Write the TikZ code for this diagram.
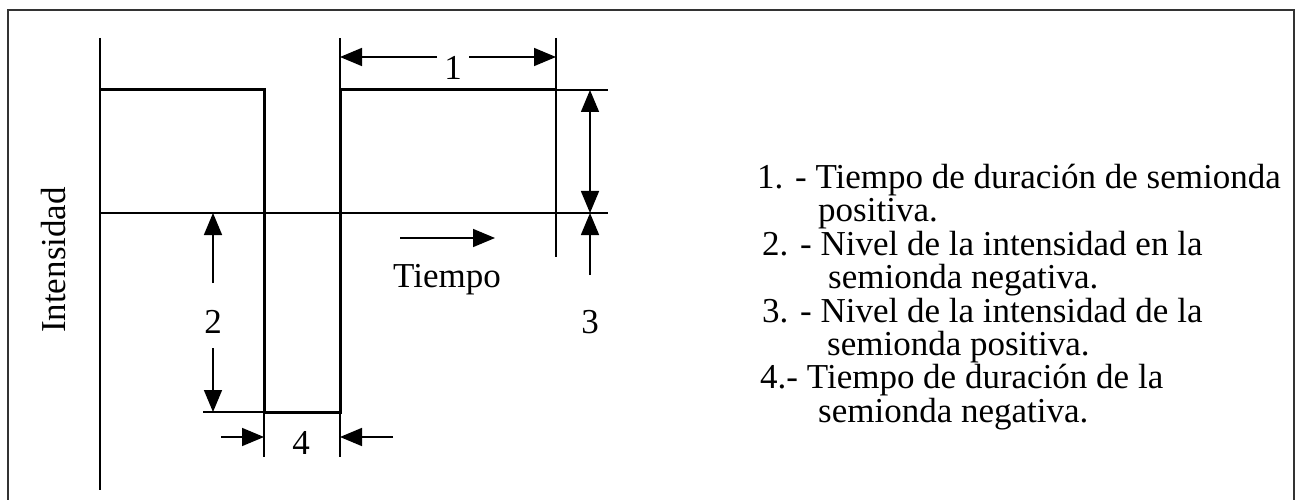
\documentclass[tikz,border=0pt]{standalone}
\usepackage{fontspec}
\setmainfont{Liberation Serif}
\usetikzlibrary{arrows.meta}

\tikzset{
  wave/.style={line width=3pt},
  guide/.style={line width=2pt},
  dimline/.style={line width=1.6pt},
  lbl/.style={inner sep=0pt, font=\fontsize{35}{40}\selectfont},
  item/.style={lbl, anchor=base west, text height=0.68em, text depth=0.2em},
  >={Triangle[length=22pt,width=18pt]}
}

\begin{document}
\begin{tikzpicture}[x=1pt, y=-1pt]
    \useasboundingbox (0,0) rectangle (1302,500);
    % frame
    \draw[line width=2pt, black!80] (8,500) -- (8,10) -- (1294,10) -- (1294,500);

    % axis and waveform
    \draw[guide] (100,38) -- (100,490);
    \draw[guide] (100,213) -- (608,213);
    \draw[wave] (100,90) -- (264,90) -- (264,412) -- (340,412) -- (340,90) -- (556,90);
    \draw[guide] (556,90) -- (608,90);
    \draw[guide] (340,90) -- (340,38);
    \draw[guide] (556,38) -- (556,257);
    \draw[dimline] (264,412) -- (264,457);
    \draw[dimline] (340,412) -- (340,457);
    \draw[dimline] (203,412) -- (264,412);

    \node[lbl, rotate=90] (intens) at (54,260) {Intensidad};
    \node[lbl] (tiempo) at (447,280) {Tiempo};
    \draw[dimline, ->] (400,238) -- (495,238);

    % dimension 1
    \node[lbl] (d1) at (453,68) {1};
    \draw[dimline, ->] (437,57) -- (340,57);
    \draw[dimline, ->] (469,57) -- (556,57);

    % dimension 2
    \node[lbl] (d2) at (213,322) {2};
    \draw[dimline, ->] (213,283) -- (213,213);
    \draw[dimline, ->] (213,348) -- (213,412);

    % dimension 3
    \node[lbl] (d3) at (590,322) {3};
    \draw[dimline, <->] (590,90) -- (590,213);
    \draw[dimline, ->] (590,275) -- (590,213);

    % dimension 4
    \node[lbl] (d4) at (301,443) {4};
    \draw[dimline, ->] (221,437) -- (264,437);
    \draw[dimline, ->] (393,437) -- (340,437);

    % legend
    \node[item] (l1) at (757,189) {1. - Tiempo de duración de semionda};
    \node[item] (l2) at (818,222) {positiva.};
    \node[item] (l3) at (762,255) {2. - Nivel de la intensidad en la};
    \node[item] (l4) at (828,288) {semionda negativa.};
    \node[item] (l5) at (762,322) {3. - Nivel de la intensidad de la};
    \node[item] (l6) at (827,355) {semionda positiva.};
    \node[item] (l7) at (760,388) {4.- Tiempo de duración de la};
    \node[item] (l8) at (818,422) {semionda negativa.};
\end{tikzpicture}
\end{document}
